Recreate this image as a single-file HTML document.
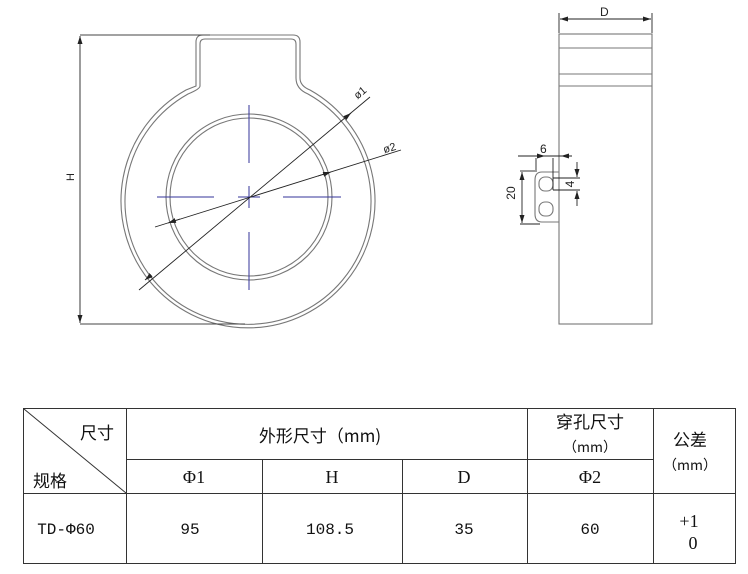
<!DOCTYPE html>
<html><head><meta charset="utf-8"><style>
body{margin:0;background:#fff;width:748px;height:574px;overflow:hidden;font-family:"Liberation Sans","Noto Sans CJK SC",sans-serif}
svg{position:absolute;left:0;top:0}
</style></head><body>
<svg width="748" height="574" viewBox="0 0 748 574">
<defs><marker id="a" markerWidth="8" markerHeight="6" refX="8" refY="3" orient="auto" markerUnits="userSpaceOnUse"><path d="M0,0.5 L8,3 L0,5.5Z" fill="#222"/></marker></defs>
<g fill="none" stroke="#777" stroke-width="1.1">
<path d="M196,86 L196,42 Q196,35 203,35 L293,35 Q300,35 300,42 L300,78 Q300,86 310,90 A127,127 0 1 1 186,90 Q196,86 196,86Z"/>
<path d="M200,86 L200,44 Q200,39 205,39 L291,39 Q296,39 296,44 L296,78 Q296,89 308,94 A123,123 0 1 1 188,94 Q200,89 200,86Z"/>
<circle cx="249" cy="197" r="83"/>
<circle cx="249" cy="197" r="79"/>
</g>
<g stroke="#33339a" stroke-width="1">
<line x1="249" y1="105" x2="249" y2="163"/><line x1="249" y1="232" x2="249" y2="290"/>
<line x1="157" y1="197" x2="214" y2="197"/><line x1="283" y1="197" x2="341" y2="197"/>
<line x1="238" y1="197" x2="260" y2="197"/><line x1="249" y1="186" x2="249" y2="208"/>
</g>
<g stroke="#222" stroke-width="0.9" fill="none">
<line x1="139" y1="290" x2="370" y2="97"/>
<line x1="150" y1="276" x2="145" y2="280" marker-end="url(#a)"/>
<line x1="345" y1="118" x2="351" y2="113" marker-end="url(#a)"/>
<line x1="155" y1="227" x2="401" y2="150"/>
<line x1="180" y1="219" x2="168" y2="223" marker-end="url(#a)"/>
<line x1="318" y1="176" x2="331" y2="172" marker-end="url(#a)"/>
<line x1="80" y1="35" x2="210" y2="35" stroke="#444"/>
<line x1="80" y1="324" x2="245" y2="324" stroke="#444"/>
<line x1="80" y1="60" x2="80" y2="36" marker-end="url(#a)"/>
<line x1="80" y1="300" x2="80" y2="323" marker-end="url(#a)"/>
<line x1="80" y1="60" x2="80" y2="300"/>
</g>
<g font-size="11" fill="#222">
<text x="354" y="98" transform="rotate(-40 358 94)">ø1</text>
<text x="383" y="152" transform="rotate(-17 388 148)">ø2</text>
<text x="78" y="181" transform="rotate(-90 74 181)" text-anchor="middle">H</text>
</g>
<g fill="none" stroke="#777" stroke-width="1.1">
<rect x="559" y="34" width="93" height="290"/>
<line x1="559" y1="48" x2="652" y2="48"/><line x1="559" y1="74" x2="652" y2="74"/><line x1="559" y1="86" x2="652" y2="86"/>
<path d="M559,172 L542,172 Q535,172 535,180 L535,214 Q535,222 542,222 L559,222"/>
<rect x="539" y="177" width="14" height="14" rx="6"/>
<rect x="539" y="202" width="14" height="14" rx="6"/>
</g>
<g stroke="#222" stroke-width="0.9" fill="none">
<line x1="559" y1="13" x2="559" y2="33"/><line x1="652" y1="13" x2="652" y2="33"/>
<line x1="580" y1="19" x2="560" y2="19" marker-end="url(#a)"/>
<line x1="630" y1="19" x2="651" y2="19" marker-end="url(#a)"/>
<line x1="580" y1="19" x2="630" y2="19"/>
<line x1="518" y1="156" x2="572" y2="156"/>
<line x1="536" y1="156" x2="545" y2="156" marker-end="url(#a)"/>
<line x1="570" y1="156" x2="561" y2="156" marker-end="url(#a)"/>
<line x1="536" y1="158" x2="536" y2="172"/><line x1="553" y1="158" x2="553" y2="190"/>
<line x1="520" y1="171" x2="535" y2="171"/><line x1="520" y1="224" x2="540" y2="224"/>
<line x1="522" y1="190" x2="522" y2="172" marker-end="url(#a)"/>
<line x1="522" y1="205" x2="522" y2="223" marker-end="url(#a)"/>
<line x1="522" y1="190" x2="522" y2="205"/>
<line x1="553" y1="178" x2="580" y2="178"/><line x1="553" y1="190" x2="580" y2="190"/>
<line x1="577" y1="162" x2="577" y2="177" marker-end="url(#a)"/>
<line x1="577" y1="206" x2="577" y2="191" marker-end="url(#a)"/>
</g>
<g font-size="12" fill="#222">
<text x="600" y="16">D</text>
<text x="540" y="153">6</text>
<text x="574" y="184" transform="rotate(-90 574 184)" text-anchor="middle">4</text>
<text x="519" y="197" transform="rotate(-90 515 197)" text-anchor="middle">20</text>
</g>
<g stroke="#333" stroke-width="1" fill="none">
<rect x="23.5" y="408.5" width="712" height="155"/>
<line x1="126.5" y1="408" x2="126.5" y2="563"/>
<line x1="527.5" y1="408" x2="527.5" y2="563"/>
<line x1="653.5" y1="408" x2="653.5" y2="563"/>
<line x1="126" y1="459.5" x2="653" y2="459.5"/>
<line x1="262.5" y1="459" x2="262.5" y2="563"/>
<line x1="402.5" y1="459" x2="402.5" y2="563"/>
<line x1="23" y1="493.5" x2="735" y2="493.5"/>
<line x1="24" y1="409" x2="126" y2="493"/>
</g>
<g font-size="17" fill="#111" text-anchor="middle" font-family="'Noto Sans CJK SC',sans-serif">
<text x="97" y="439">尺寸</text>
<text x="50" y="487">规格</text>
<text x="320" y="442">外形尺寸（mm)</text>
<text x="590" y="428">穿孔尺寸</text>
<text x="590" y="452" font-size="14">（mm）</text>
<text x="690" y="446">公差</text>
<text x="690" y="470" font-size="14">（mm）</text>
</g>
<g font-size="16" fill="#111" text-anchor="middle" font-family="'Liberation Mono','DejaVu Sans Mono',monospace">
<text x="66" y="534">TD-Φ60</text>
<text x="190" y="534">95</text>
<text x="330" y="534">108.5</text>
<text x="464" y="534">35</text>
<text x="590" y="534">60</text>
</g>
<g font-size="18" fill="#111" text-anchor="middle" font-family="'Liberation Serif',serif">
<text x="194" y="483">Φ1</text>
<text x="332" y="483">H</text>
<text x="464" y="483">D</text>
<text x="590" y="483">Φ2</text>
<text x="689" y="527">+1</text>
<text x="693" y="549">0</text>
</g>
</svg>
</body></html>
